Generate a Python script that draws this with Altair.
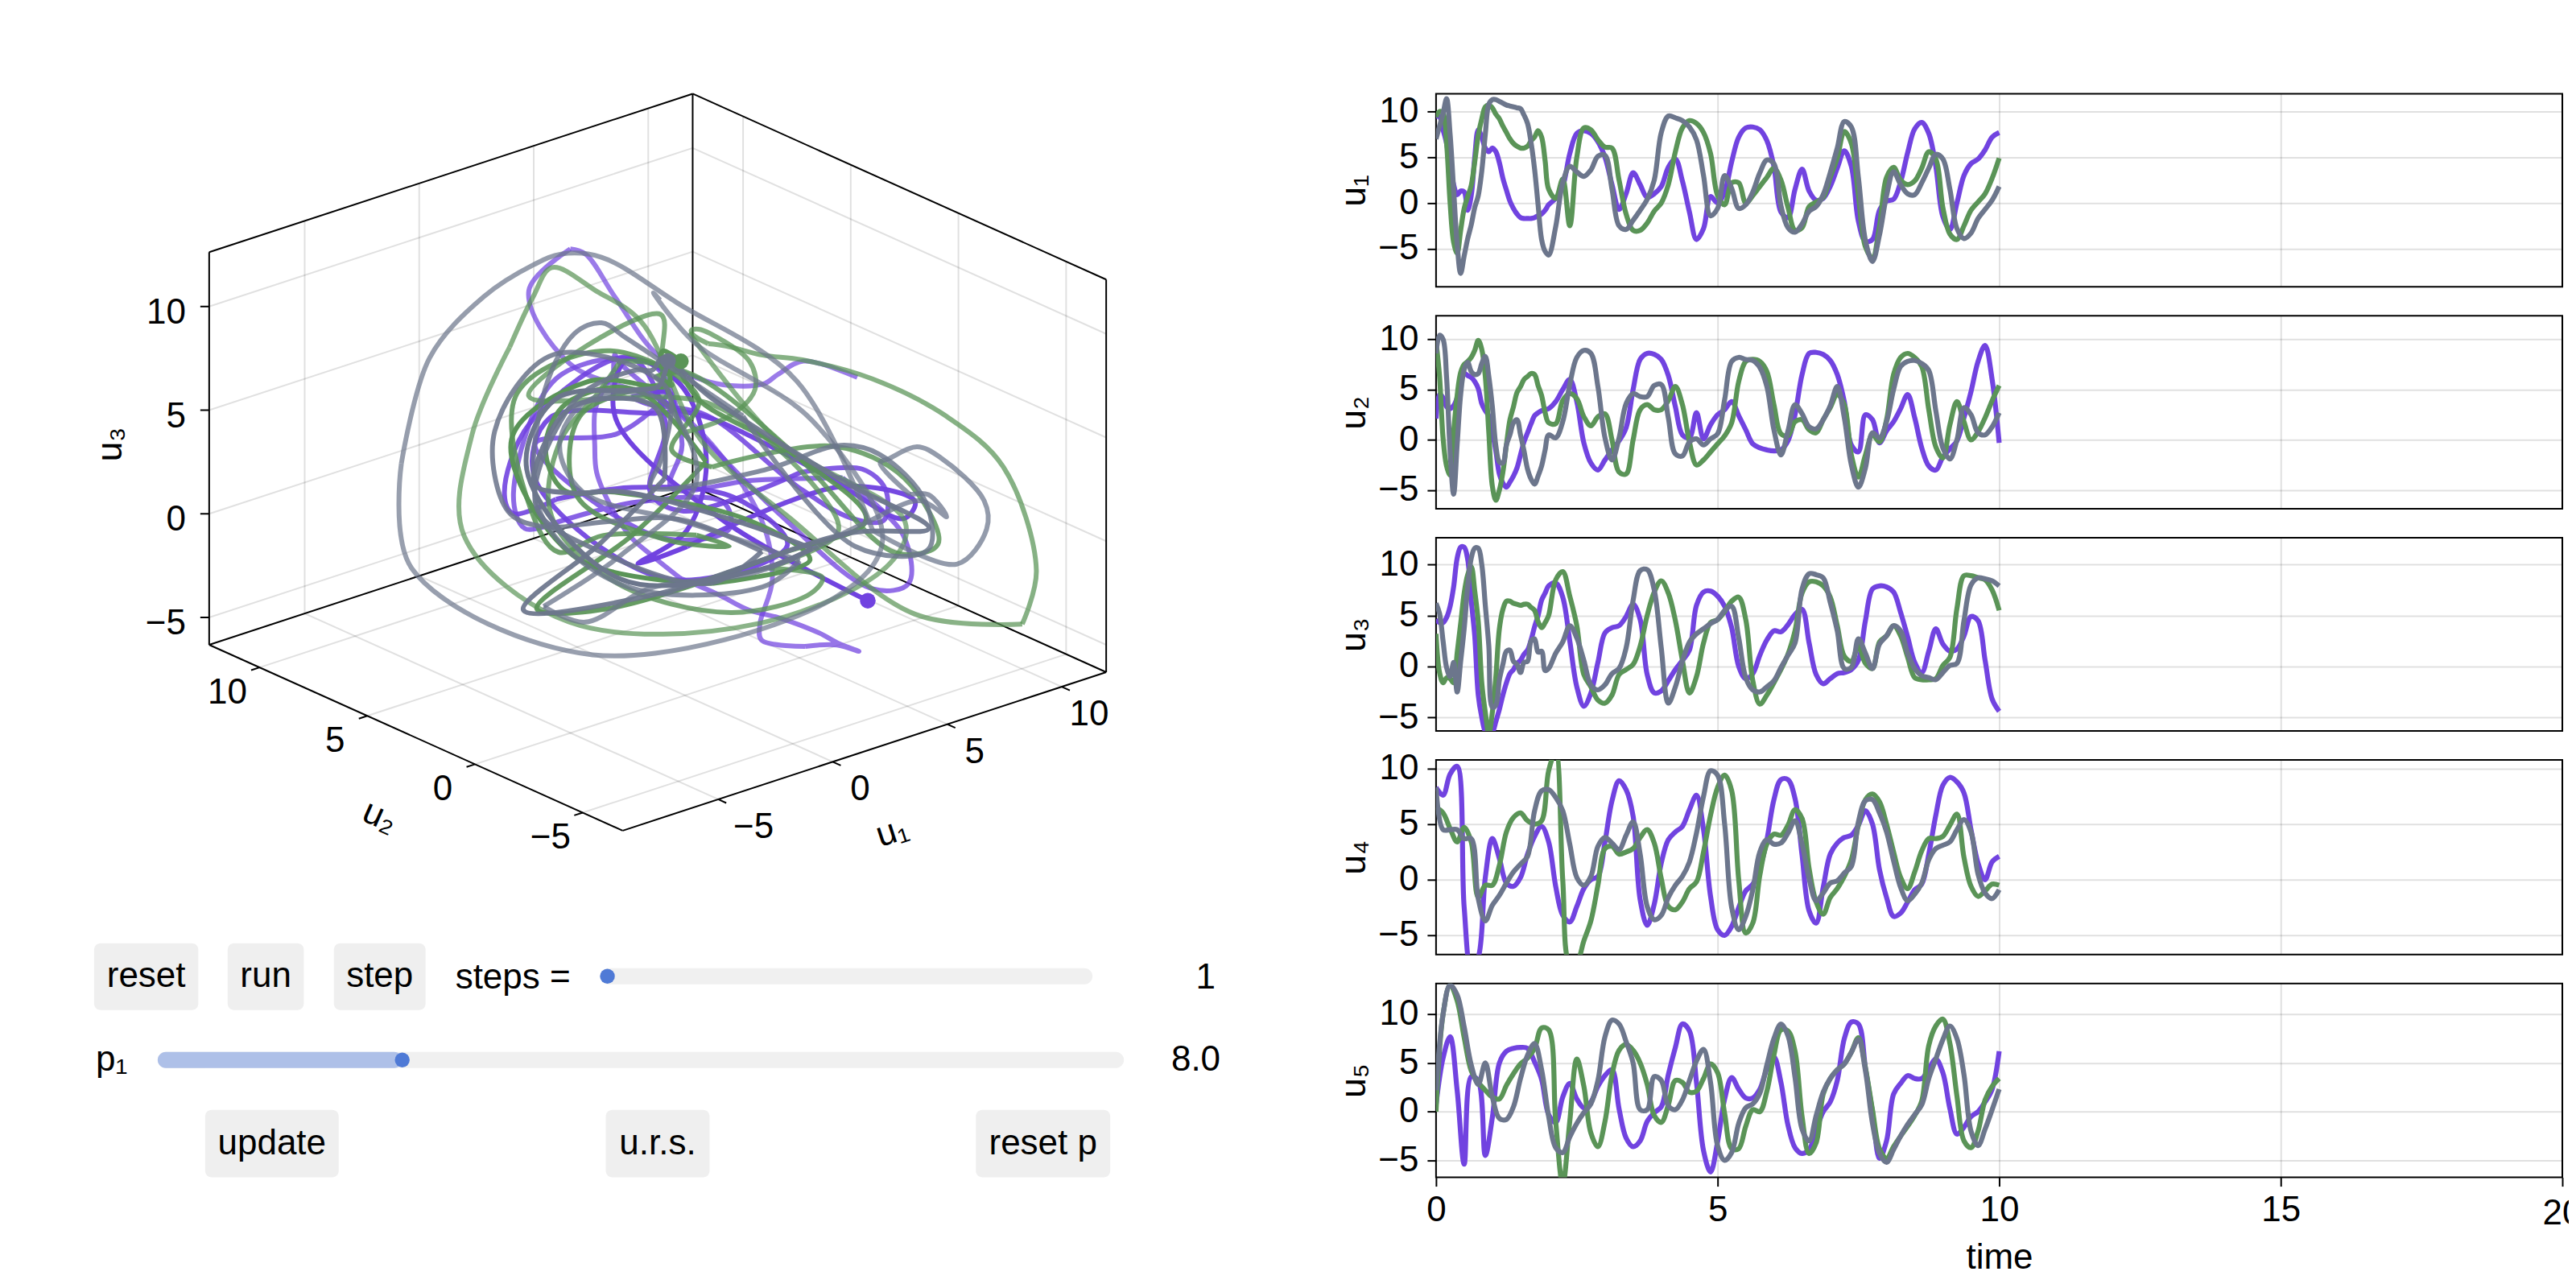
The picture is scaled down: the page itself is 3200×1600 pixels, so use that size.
import altair as alt
import pandas as pd

# ---------- time grid and values ----------
TIME = [i * 0.125 for i in range(81)]
# extra readings in the fast opening stretch of u1, u2, u3
EARLY_TIME = [0.0625 + i * 0.125 for i in range(16)]
SERIES = ["a", "b", "c"]
COLORS = ["#7143E0", "#5A9457", "#6C768C"]

U1_A = [9.5,8,4,0.9,1.2,0.8,8,6,6,4.4,
        1.4,-0.6,-1.6,-1.7,-1.6,-1.2,-0.2,0.5,1.8,5.4,
        7.6,7.9,7.6,6.7,5,2,-0.7,1,3.3,2,
        0.6,1,1.8,3.9,4.8,2.4,-1,-4,-2.8,0.7,
        0,1.2,4.5,7.2,8.2,8.3,8,6.8,4,-1,
        -1.6,1.5,3.7,1.3,0.3,0.5,1.8,3.8,5.7,4,
        -2,-4.2,-4,-0.8,0.2,0.4,2.3,5.5,8.1,8.8,
        7.6,4,-1.5,-2.9,0,3,4.3,4.8,5.8,7.2,
        7.7]
U1_A_E = [9.4,6.5,2,1.3,-0.8,5,7.2,5.6,5.6,2.7,0.2,-1.2,-1.7,-1.7,-1.4,-0.8]
U1_B = [9.4,9.8,0,-5.5,-0.6,1.9,7.4,10.5,10.4,9.2,
        7.7,6.5,6,6.2,7.2,7.2,1.5,0.5,2.6,-2.5,
        5,8.2,8,6.9,6.1,6,2.5,-1.2,-3,-3,
        -2.2,-0.9,0,2,5.6,8.2,9,8.7,7.7,5.4,
        0.8,-0.2,2.2,2.2,0,0.8,1.8,2.8,3.8,2.5,
        -0.5,-3,-2.7,-0.4,0.1,0.6,2.8,4.9,7.8,6.5,
        0.8,-4.8,-6,-2.5,2.8,3.9,2.5,2,2.4,3.8,
        5.6,4.8,-0.5,-3.4,-4,-2.5,-0.8,0.1,1,2.7,
        4.9]
U1_B_E = [10,6.5,-4.3,-3,0.7,4.5,9.2,10.7,9.7,8.4,7,6.2,6,6.8,7.9,4.6]
U1_C = [7,9.8,7.5,-4.5,-5.8,-2.4,0.8,7.5,11.3,11.1,
        10.7,10.5,10.3,8.7,3.7,-4,-5.7,-2.6,2.2,4,
        3.4,2.9,3.6,5.1,5.2,1.5,-2.5,-2.9,-1.9,-0.8,
        0.4,2.5,7.7,9.5,9.3,9,8.3,6.9,3,-1.4,
        -0.6,3,1.6,-0.6,-0.2,1.2,3.3,4.7,4.3,-0.3,
        -2.7,-3.2,-2.3,-0.9,-0.4,0.9,3.3,6,8.9,8.3,
        2.8,-4.1,-6.4,-3.5,0.8,3.4,2,1,0.9,2.2,
        3.8,5.3,4.8,1.5,-2.8,-3.9,-3.3,-1.7,-0.7,0.3,
        1.8]
U1_C_E = [8.4,11.4,1.5,-7.7,-3.9,-0.5,3.5,10.8,11.3,10.9,10.6,10.4,9.6,6.6,-0.2,-5.3]

U2_A = [2.1,4.2,3.1,4.2,6.6,6.2,5.1,2.9,0.8,-3.4,
        -4.7,-3.6,-1.5,0.7,2.4,2.9,3.1,3.8,5,6,
        3.8,-0.3,-2.3,-3,-2,-1,-0.1,1.2,5,8,
        8.6,8.5,8,6.4,3.3,0.5,0.2,2.7,0.1,1.5,
        2.5,3,3.8,2.4,1,-0.4,-0.8,-1,-1.1,-1,
        -0.1,2.5,6.5,8.6,8.7,8.5,7.9,6.5,3.8,-0.5,
        -1.2,2.5,2,-0.3,0.9,1.8,3.1,4.5,2.2,-0.8,
        -2.6,-3,-1.7,-0.9,-0.1,2.2,4.8,7.8,9.4,6,
        -0.3]
U2_A_E = [4.5,3.3,3.4,6,6.4,5.8,3.6,2.4,-1.1,-4.3,-4.2,-2.8,-0.2,1.6,2.7,3]
U2_B = [9.8,0.2,-3.5,4.4,7.5,8.2,9.9,6.3,-4.6,-5,
        -0.5,3.3,5.3,6.3,6.5,4.4,1.7,1.6,3.9,4.6,
        4.1,2.3,1.4,2.3,2.6,0,-3.2,-3.4,0,3,
        3.5,3,3,3.9,5.3,3.5,-0.2,-2.5,-2,-1.2,
        -0.4,0.4,1.7,5.8,7.8,8,7.8,6.8,3.5,0.6,
        0.4,1.8,2,1,0.7,2,3.2,4.5,3.5,-1.5,
        -3.7,-1.5,0.5,-0.2,2,6.5,8.2,8.6,8.2,7.3,
        3,-0.7,-1.8,1.5,3.8,1.8,0,0.8,2.2,3.9,
        5.4]
U2_B_E = [6.3,-2.6,0.8,6.7,7.8,8.9,9,0.7,-6,-3.2,2,4.7,6,6.6,5.4,2.7]
U2_C = [8.6,10,-1.2,-0.5,7,6.8,6.6,8.3,3.3,-2.2,
        -0.5,1.7,0.5,-2.9,-4.4,-2.6,0.5,0.2,1.8,5.5,
        8.2,8.9,8.6,5.3,0.2,-2,0.2,3.6,4.6,4.3,
        4.3,5.4,5.5,2.2,-1.4,-1.6,-0.2,0.1,-0.5,0.1,
        0.6,4,7.8,8.2,8,7.9,7.2,5.3,1,-1.5,
        0.9,3.5,2.6,1.3,1.1,2,3.4,5.3,2.2,-2.5,
        -4.7,-2.8,0.7,0.2,1.8,5,7.3,7.8,7.9,7.6,
        6.9,2.9,-0.8,-1.9,0,3.2,2.5,0.7,0.5,1.3,
        2.7]
U2_C_E = [10.4,6.2,-5.4,4.5,7.7,6.5,7.6,6.3,-0.6,-2.3,0.5,2,-1.1,-3.9,-3.6,-1]

U3_A = [4.6,4.3,5.9,10.6,11.7,6.5,-2.8,-6.4,-6.5,-4.2,
        -1.6,-0.3,0.6,1.6,3.9,6.5,7.9,8.2,6.8,2.5,
        -2,-3.9,-2.6,0.4,3.3,3.8,4,4.9,6.1,4.6,
        -0.8,-2.6,-2.4,-1.4,-0.3,0.6,1.6,6,7.3,7.4,
        6.9,5.9,3.8,0,-1.2,-0.7,1.1,2.6,3.5,3.4,
        4.1,5.1,5.6,2.3,-0.8,-1.7,-1.2,-0.7,-0.6,-0.3,
        0.6,4.5,7.6,7.9,7.8,7.3,5.3,2.9,0.4,-0.6,
        1.5,3.7,2.2,1.5,1.7,3,4.9,4.5,0.6,-3.2,
        -4.4]
U3_A_E = [4.3,4.8,7.8,11.7,10.5,3,-5,-6.8,-5.4,-2.8,-0.7,0.3,1.2,2.6,5,7.2]
U3_B = [3.2,-1.6,-1.2,1.3,7.2,9.8,4.4,-4.5,-4.5,3.7,
        6.4,6.2,6,6.1,5.5,3.8,5,8.5,9.3,6.9,
        4,-0.8,-2,-3.3,-3.6,-2.8,-0.8,-0.3,0.2,2,
        5,7.3,8.4,7.2,4.5,0.6,-2.6,-1,2.3,4.3,
        4.6,5.4,6.4,6.8,4.6,-1.4,-3.7,-2.8,-1.6,-0.3,
        1.2,3.5,7.2,8.3,8.3,7.9,6.8,4,1,0.5,
        2,0.3,-0.2,2.4,3,4,3,0.9,-1.1,-1.3,
        -1.3,-1.2,0.1,0.9,5.7,8.9,8.9,8.7,8.5,7.5,
        5.5]
U3_B_E = [-0.6,-1.1,-1.6,4.2,9,7.4,-1.6,-6.6,-1,5.6,6.4,6.1,6.1,5.8,4.4,4.3]
U3_C = [6.2,2.5,-1,-2.5,3.7,10.6,11.6,6,-4,-1.3,
        1.5,0.5,-0.6,0.5,2.7,1.5,-0.2,1.3,2.4,4,
        2.8,0.6,-1.8,-2.3,-1.8,-0.7,-0.2,1.8,6.5,9.4,
        9.5,7.5,1.8,-3.6,-2,0.5,2.4,3.2,3.7,4.2,
        4.6,5.5,5.9,2.8,-1.1,-2.3,-2.5,-2,-1.4,-0.1,
        1.1,2.3,7.6,9.1,9,8.7,6.3,3.5,-0.2,-0.1,
        2.7,1.3,-0.2,2.2,3,4,3.5,1.3,-0.2,-0.9,
        -1.1,-1.3,-0.6,0.1,0.3,4.5,8,8.7,8.6,8.4,
        7.9]
U3_C_E = [5.2,-0.1,0.4,0.5,7.8,11.6,10,2,-3.8,0.2,1.6,0.2,0.4,2.5,1.4,-0.4]

U4_A = [8.3,7.6,9.5,10.2,-2.5,-8,-7,0.2,3.7,1.9,
        -0.3,-0.6,0.2,2.3,3.9,4.8,3.4,-0.6,-3.2,-3.8,
        -2.4,-0.8,0,0.3,3.4,7.1,8.9,8.1,5.7,-1.8,
        -4.1,-2.2,1.5,3.6,4.3,4.8,6.3,7.6,4.5,-1.5,
        -4.5,-5,-4.2,-2.5,-1,-0.4,1,3.6,7.2,9,
        9,7.3,2.2,-2.8,-3.9,-0.7,2.3,3.3,3.8,4,
        4.9,6.2,5,0.9,-1.6,-3.3,-3,-2,-0.9,-0.4,
        2.3,5.8,8.5,9.2,8.8,7.8,4.5,1.5,0,1.6,
        2.1]
U4_B = [6.5,6,4.6,3.4,4.7,3.4,-1.6,-0.5,-0.5,1.3,
        4.3,5.6,6,5.3,5,5.3,9.8,11.5,0,-7.5,
        -7.4,-5.5,-3.7,-0.5,2.8,3,2.3,2.5,2.8,3.8,
        4.5,3.3,0.1,-2.4,-2.7,-2,-0.8,-0.2,2.5,5.8,
        8.3,9.4,8,0,-4.8,-3.9,0.4,3.2,4.1,4,
        4.9,6.3,5.5,1,-2,-3.1,-1.6,-0.8,0.3,1.8,
        4.9,7.2,7.7,7,5,2.5,0.2,-0.8,0.7,2.6,
        3.7,3.7,3.9,4.9,5.9,2,-0.6,-1.5,-1,-0.4,
        -0.5]
U4_C = [8.3,4.5,4.5,4.5,3.7,3.7,-1.7,-3.7,-2.3,-1.4,
        -0.3,0.7,1.4,2.1,6.2,8,8.1,7.4,6.2,3.2,
        0.2,-0.5,0.3,3,3.8,3.3,2.7,4,5.2,2.3,
        -2.4,-3.6,-3.2,-1.6,-0.5,0.3,1.6,4.2,7.5,9.8,
        9.4,5,-2.5,-4.5,-3.3,-0.9,2.5,3.6,3.2,3.3,
        4.2,5.3,3.2,0.1,-1.9,-1.2,-0.3,-0.1,0.6,1.2,
        5.2,7.1,7.2,6,4.3,1.7,-0.7,-1.9,-1.3,-0.3,
        1.8,2.8,3.1,3.4,4.5,5.4,4.3,0.5,-1.2,-1.7,
        -0.9]

U5_A = [0.7,5.5,7.7,2.2,-5.4,3.6,3.2,-4.5,-0.6,5,
        6.2,6.5,6.6,6.5,5.1,3.3,-0.3,-1.1,1.5,2.9,
        1.3,0.4,1,2.6,3.7,4.3,0.3,-2.7,-3.6,-3,
        -1,-0.1,0.5,3.8,6.6,9,8.3,3,-4,-6.2,
        -3.1,1.3,3.5,2.3,1.4,1.4,2.3,4.4,5.6,3,
        -1.4,-3.7,-4.3,-3.9,-1.9,0,1,3.2,7.5,9.2,
        9,4.5,0,-4.8,-3,1.8,2.9,3.7,3.4,3.4,
        4.4,5.4,4,0.3,-2.3,-1.6,-0.5,0,1,2.3,
        6.2]
U5_B = [0,10,13,11.4,7.6,4.2,3,2.2,1.5,1.3,
        2.7,3.9,4.9,5.5,6.5,8.6,8.4,-1,-7.5,-1,
        5.4,2.6,-2.2,-3.6,-1,3.8,6.3,6.9,6.3,5,
        2.8,-0.4,-1.1,0.7,3.2,3,2,2.1,3.4,4.9,
        4,-0.2,-3.8,-3.8,-1.5,0.2,0,2.1,5.8,8.4,
        8.3,6.2,-0.5,-4.3,-3.2,1.8,3.4,4.3,4.9,6.1,
        7.6,4.5,0.2,-3.8,-4.8,-3.6,-2.5,-1.5,-0.4,1.1,
        6.8,8.8,9.5,7,1.6,-3,-3.7,-2,1.2,2.6,
        3.4]
U5_C = [2.2,10,13,12,8.7,4.8,2.8,5,1.5,-0.7,
        -0.8,0.5,3.4,5.8,7,4.3,-0.5,-3.7,-4.2,-2.6,
        -1.2,-0.1,0.8,3.2,7.7,9.4,9,7.2,5,0.2,
        0.2,3.6,3.2,0.6,0.2,1.2,3.2,5.2,6.4,3,
        -3.5,-5,-4.2,-1.2,0.4,0.8,1.9,4.8,7.5,9,
        7.8,3.5,-1.8,-3,-0.4,2,3.4,4.3,4.9,6.1,
        7.4,4.2,-1.2,-4.3,-5.2,-3.9,-2.5,-1.3,-0.3,0.7,
        3.4,5.4,7.4,8.8,7.5,3.8,-2,-3.5,-1.8,0.2,
        2.3]


def merged(vals, early):
    return sorted(zip(TIME + EARLY_TIME, vals + early))


M1 = [merged(U1_A, U1_A_E), merged(U1_B, U1_B_E), merged(U1_C, U1_C_E)]
M2 = [merged(U2_A, U2_A_E), merged(U2_B, U2_B_E), merged(U2_C, U2_C_E)]
M3 = [merged(U3_A, U3_A_E), merged(U3_B, U3_B_E), merged(U3_C, U3_C_E)]
M4 = [list(zip(TIME, U4_A)), list(zip(TIME, U4_B)), list(zip(TIME, U4_C))]
M5 = [list(zip(TIME, U5_A)), list(zip(TIME, U5_B)), list(zip(TIME, U5_C))]

PANELS = [
    ("u\u2081", M1, [-9.17, 11.94], 240),
    ("u\u2082", M2, [-6.86, 12.34], 240),
    ("u\u2083", M3, [-6.32, 12.62], 240),
    ("u\u2084", M4, [-6.73, 10.78], 242),
    ("u\u2085", M5, [-6.75, 13.16], 241),
]
Y_TICKS = [-5, 0, 5, 10]
X_TICKS = [0, 5, 10, 15, 20]
FONT = "Liberation Sans"
FS = 44
GRID_OP = 0.12


def panel(title, series, dom, h, last):
    rows = []
    for name, vals in zip(SERIES, series):
        for t, v in vals:
            rows.append({"t": t, "v": v, "s": name})
    df = pd.DataFrame(rows)
    xaxis = dict(values=X_TICKS, grid=True, gridColor="#000", gridOpacity=GRID_OP, gridWidth=2, domain=False)
    if last:
        xaxis.update(title="time", titleFont=FONT, titleFontSize=44, titleFontWeight="normal", titlePadding=15,
                     labelFont=FONT, labelFontSize=FS, tickSize=11, tickWidth=2, tickColor="#000",
                     labelPadding=8, labelColor="#000", titleColor="#000", labelOverlap=False, labelFlush=False,
                     labelExpr="datum.value == 20 ? '' : datum.label")
    else:
        xaxis.update(labels=False, ticks=False, title=None)
    return (
        alt.Chart(df)
        .mark_line(strokeWidth=6.2, interpolate="catmull-rom", clip=True)
        .encode(
            x=alt.X("t:Q", scale=alt.Scale(domain=[0, 20], nice=False, zero=False), axis=alt.Axis(**xaxis)),
            y=alt.Y("v:Q", scale=alt.Scale(domain=dom, nice=False, zero=False),
                    axis=alt.Axis(values=Y_TICKS, grid=True, gridColor="#000", gridOpacity=GRID_OP, gridWidth=2,
                                  domain=False, tickSize=11, tickWidth=2, tickColor="#000", labelFont=FONT,
                                  labelFontSize=FS, labelColor="#000", labelPadding=11, labelOverlap=False,
                                  title=title, titleFont=FONT, titleFontSize=44, titleFontWeight="normal",
                                  titleColor="#000", titleAngle=270, titleAlign="center", titleBaseline="middle",
                                  titleX=-101, titleY=h / 2)),
            color=alt.Color("s:N", scale=alt.Scale(domain=SERIES, range=COLORS), legend=None),
        )
        .properties(width=1400, height=h, view=alt.ViewBackground(stroke="#000", strokeWidth=2))
    )


stack = alt.vconcat(*[panel(p[0], p[1], p[2], p[3], i == 4) for i, p in enumerate(PANELS)], spacing=36, bounds="flush")

# The last x tick label runs off the page edge in the reference: a transparent view as wide
# as the remaining page width holds it, and clips it there.
edge_label = (
    alt.Chart(pd.DataFrame({"t": [20], "txt": ["20"]}))
    .mark_text(font=FONT, fontSize=FS, align="center", baseline="middle", color="#000", clip=True)
    .encode(
        x=alt.X("t:Q", scale=alt.Scale(domain=[0, 1408 / 70], nice=False, zero=False), axis=None),
        y=alt.value(1388),
        text="txt:N",
    )
    .properties(width=1408, height=1460, view=alt.ViewBackground(stroke="transparent"))
)
right = alt.vconcat(stack, edge_label, spacing=4, bounds="flush")

# ---------- 3-D view: orthographic projection of (u1, u2, u3) ----------
LIM1 = PANELS[0][2]
LIM2 = PANELS[1][2]
LIM3 = PANELS[2][2]
ORIGIN = (773.0, 1031.0)
E1 = (601.0 / 21.11, -197.0 / 21.11)
E2 = (-514.0 / 19.2, -231.0 / 19.2)
E3 = (0.0, -488.0 / 18.94)


def proj(a, b, c):
    da, db, dc = a - LIM1[0], b - LIM2[0], c - LIM3[0]
    return (ORIGIN[0] + E1[0] * da + E2[0] * db + E3[0] * dc,
            ORIGIN[1] + E1[1] * da + E2[1] * db + E3[1] * dc)


def seg(p, q):
    return {"x": p[0], "y": p[1], "x2": q[0], "y2": q[1]}


L1, H1 = LIM1
L2, H2 = LIM2
L3, H3 = LIM3
TICKS_3D = [-5, 0, 5, 10]

grid_rows = []
for v in TICKS_3D:
    grid_rows.append(seg(proj(v, L2, L3), proj(v, H2, L3)))
    grid_rows.append(seg(proj(v, H2, L3), proj(v, H2, H3)))
    grid_rows.append(seg(proj(L1, v, L3), proj(H1, v, L3)))
    grid_rows.append(seg(proj(H1, v, L3), proj(H1, v, H3)))
    grid_rows.append(seg(proj(L1, H2, v), proj(H1, H2, v)))
    grid_rows.append(seg(proj(H1, H2, v), proj(H1, L2, v)))

edge_rows = [
    seg(proj(L1, L2, L3), proj(H1, L2, L3)),
    seg(proj(L1, L2, L3), proj(L1, H2, L3)),
    seg(proj(L1, H2, L3), proj(H1, H2, L3)),
    seg(proj(H1, H2, L3), proj(H1, L2, L3)),
    seg(proj(L1, H2, L3), proj(L1, H2, H3)),
    seg(proj(H1, L2, L3), proj(H1, L2, H3)),
    seg(proj(H1, H2, L3), proj(H1, H2, H3)),
    seg(proj(L1, H2, H3), proj(H1, H2, H3)),
    seg(proj(H1, H2, H3), proj(H1, L2, H3)),
]
TICK_LEN = 11.0
n1 = (E1[0] ** 2 + E1[1] ** 2) ** 0.5
n2 = (E2[0] ** 2 + E2[1] ** 2) ** 0.5
text_rows = []
for v in TICKS_3D:
    lab = str(v).replace("-", "\u2212")
    p = proj(v, L2, L3)
    edge_rows.append(seg(p, (p[0] - E2[0] / n2 * TICK_LEN, p[1] - E2[1] / n2 * TICK_LEN)))
    p = proj(L1, v, L3)
    edge_rows.append(seg(p, (p[0] - E1[0] / n1 * TICK_LEN, p[1] - E1[1] / n1 * TICK_LEN)))
    p = proj(L1, H2, v)
    edge_rows.append(seg(p, (p[0] - TICK_LEN, p[1])))
    text_rows.append({"x": proj(L1, H2, v)[0] - 29, "y": proj(L1, H2, v)[1] + 8, "txt": lab, "al": "right"})
    q = proj(L1, v, L3)
    text_rows.append({"x": q[0] - 40, "y": q[1] + 32, "txt": lab, "al": "center"})
    r = proj(v, L2, L3)
    text_rows.append({"x": r[0] + (44 if v < 0 else 34), "y": r[1] + 35, "txt": lab, "al": "center"})

SPAN = 8
traj_rows = []
for si, (name, a, b, c) in enumerate(zip(SERIES, M1, M2, M3)):
    pts = [(ta,) + proj(va, vb, vc) for (ta, va), (_, vb), (_, vc) in zip(a, b, c)]
    for start in range(0, len(pts) - 1, SPAN):
        part = pts[start: start + SPAN + 1]
        op = 0.7 + 0.3 * part[0][0] / 9.0
        for k, (_, px, py) in enumerate(part):
            traj_rows.append({"x": px, "y": py, "k": k, "chunk": si * 1000 + start, "s": name, "op": min(op, 1.0)})
end_rows = [{"x": proj(a[-1][1], b[-1][1], c[-1][1])[0], "y": proj(a[-1][1], b[-1][1], c[-1][1])[1], "s": name}
            for name, a, b, c in zip(SERIES, M1, M2, M3)]

# ---------- layout of the left column, in page pixels ----------
VX0, VY0, VW, VH = 8, 115, 1700, 1348
xs = alt.Scale(domain=[VX0, VX0 + VW], nice=False, zero=False)
ys = alt.Scale(domain=[VY0 + VH, VY0], nice=False, zero=False)
X = alt.X("x:Q", scale=xs, axis=None)
Y = alt.Y("y:Q", scale=ys, axis=None)


def rules(rows, color, width, opacity=1.0):
    return alt.Chart(pd.DataFrame(rows)).mark_rule(color=color, strokeWidth=width, opacity=opacity).encode(
        x=X, y=Y, x2=alt.X2("x2:Q"), y2=alt.Y2("y2:Q"))


def texts(rows, align, size=FS, angle=0):
    return alt.Chart(pd.DataFrame(rows)).mark_text(
        font=FONT, fontSize=size, align=align, baseline="middle", color="#000", angle=angle
    ).encode(x=X, y=Y, text="txt:N")


BUTTONS = [("reset", 116, 245.5, 1171, 1254), ("run", 282, 376.6, 1171, 1254), ("step", 414, 528, 1171, 1254),
           ("update", 254, 420, 1378, 1462), ("u.r.s.", 752, 881, 1378, 1462), ("reset p", 1212, 1379, 1378, 1462)]
TRACKS = [(745, 1357, 1202, 1222), (195, 1396, 1306, 1326)]
FILL = [(195, 499, 1306, 1326)]
THUMBS = [(754, 1212), (499, 1316)]

btn_df = pd.DataFrame([{"x": b[1], "x2": b[2], "y": b[3], "y2": b[4]} for b in BUTTONS])
trk_df = pd.DataFrame([{"x": b[0], "x2": b[1], "y": b[2], "y2": b[3]} for b in TRACKS])
fil_df = pd.DataFrame([{"x": b[0], "x2": b[1], "y": b[2], "y2": b[3]} for b in FILL])
thm_df = pd.DataFrame([{"x": b[0], "y": b[1]} for b in THUMBS])


def rects(df, color, radius):
    return alt.Chart(df).mark_rect(color=color, cornerRadius=radius).encode(
        x=X, x2=alt.X2("x2:Q"), y=Y, y2=alt.Y2("y2:Q"))


btn_text = [{"x": (b[1] + b[2]) / 2, "y": (b[3] + b[4]) / 2, "txt": b[0]} for b in BUTTONS]

scale_c = alt.Scale(domain=SERIES, range=COLORS)
layers = [
    rules(grid_rows, "#000", 2, GRID_OP),
    rules(edge_rows, "#000", 2),
    alt.Chart(pd.DataFrame(traj_rows)).mark_line(strokeWidth=6, interpolate="catmull-rom").encode(
        x=X, y=Y, order=alt.Order("k:Q"), detail="chunk:N",
        color=alt.Color("s:N", scale=scale_c, legend=None),
        opacity=alt.Opacity("op:Q", scale=None)),
    alt.Chart(pd.DataFrame(end_rows)).mark_circle(size=380, opacity=1).encode(
        x=X, y=Y, color=alt.Color("s:N", scale=scale_c, legend=None)),
    texts([r for r in text_rows if r["al"] == "right"], "right"),
    texts([r for r in text_rows if r["al"] == "center"], "center"),
    texts([{"x": 137, "y": 551, "txt": "u\u2083"}], "center", 44, 270),
    texts([{"x": 471, "y": 1014, "txt": "u\u2082"}], "center", 44, 24),
    texts([{"x": 1108, "y": 1033, "txt": "u\u2081"}], "center", 44, 342),
    rects(btn_df, "#EFEFEF", 8),
    rects(trk_df, "#F0F0F0", 10),
    rects(fil_df, "#AEC0E8", 10),
    alt.Chart(thm_df).mark_circle(size=340, color="#4F7AD6", opacity=1).encode(x=X, y=Y),
    texts(btn_text, "center"),
    texts([{"x": 565, "y": 1214, "txt": "steps ="}, {"x": 118, "y": 1316, "txt": "p\u2081"}], "left"),
    texts([{"x": 1510, "y": 1214, "txt": "1"}, {"x": 1516, "y": 1316, "txt": "8.0"}], "right"),
]
left = alt.layer(*layers).properties(width=VW, height=VH, view=alt.ViewBackground(stroke="transparent"))

chart = (
    alt.hconcat(left, right, spacing=76, bounds="flush")
    .properties(padding={"left": 0, "top": 106, "right": 0, "bottom": 0}, background="white")
    .resolve_scale(color="independent")
    .configure_view(stroke="transparent")
)
chart.save("out.html", embed_options={"renderer": "svg", "actions": False})
